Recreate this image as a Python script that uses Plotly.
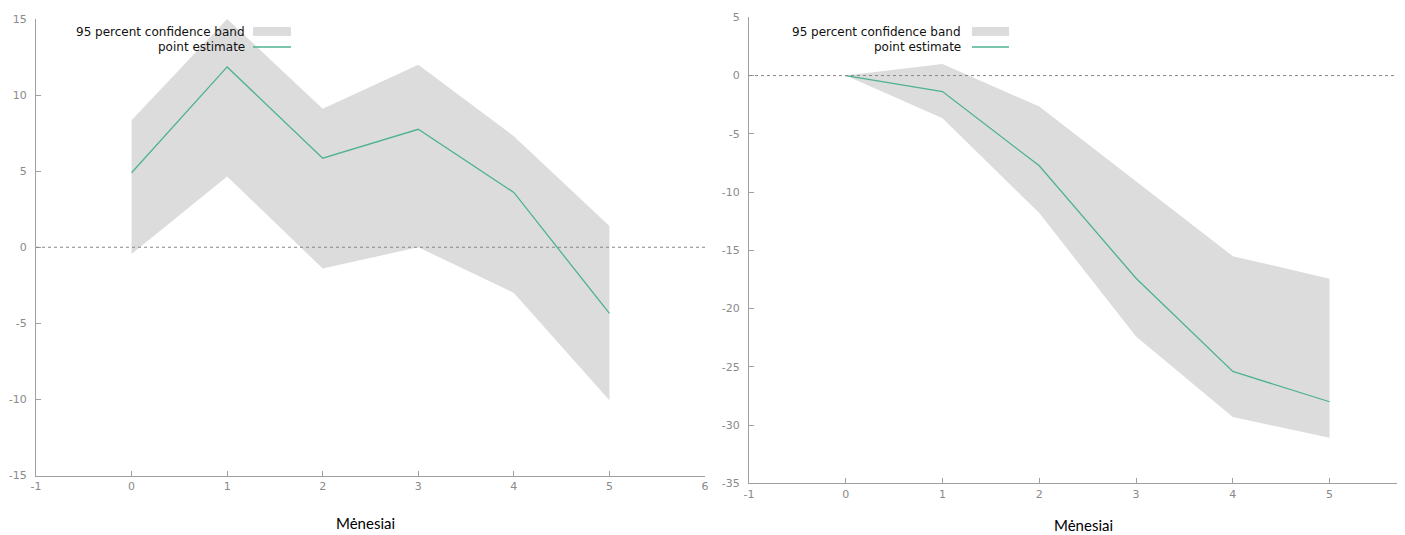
import plotly.graph_objects as go

# ---- data ----
months = [0, 1, 2, 3, 4, 5]

left_point = [4.9, 11.85, 5.85, 7.75, 3.6, -4.35]
left_upper = [8.35, 15.0, 9.1, 12.0, 7.3, 1.4]
left_lower = [-0.45, 4.65, -1.4, 0.0, -3.0, -10.05]

right_point = [0.0, -1.37, -7.75, -17.4, -25.4, -28.0]
right_upper = [0.0, 1.0, -2.66, -9.1, -15.5, -17.45]
right_lower = [0.0, -3.66, -11.8, -22.4, -29.3, -31.1]

x_ticks_left = [-1, 0, 1, 2, 3, 4, 5, 6]
x_ticks_right = [-1, 0, 1, 2, 3, 4, 5]
y_ticks_left = [-15, -10, -5, 0, 5, 10, 15]
y_ticks_right = [-35, -30, -25, -20, -15, -10, -5, 0, 5]

x_title = "Mėnesiai"
band_label = "95 percent confidence band"
point_label = "point estimate"

# ---- styles ----
BAND = "#dcdcdc"
LINE = "#4db38e"
AXIS = "#a0a0a0"
TICKC = "#8a8a8a"
OFF = 8                      # page body margin of the html page
W, H = 1405 - OFF, 535 - OFF  # figure size so it fills the window


def px(x):
    return (x - OFF) / W


def py(y):
    return (H - (y - OFF)) / H


fig = go.Figure()


def add_panel(xa, ya, upper, lower, point):
    fig.add_trace(go.Scatter(x=months + months[::-1], y=upper + lower[::-1],
                             fill="toself", fillcolor=BAND, line=dict(width=0),
                             mode="lines", xaxis=xa, yaxis=ya, showlegend=False,
                             hoverinfo="skip"))
    fig.add_trace(go.Scatter(x=months, y=point, mode="lines",
                             line=dict(color=LINE, width=1.3),
                             xaxis=xa, yaxis=ya, showlegend=False))


add_panel("x", "y", left_upper, left_lower, left_point)
add_panel("x2", "y2", right_upper, right_lower, right_point)


def lbl(vals):
    return [str(v) for v in vals]  # plain hyphen minus, like the reference


axis_common = dict(showgrid=False, zeroline=False, showline=True, linecolor=AXIS,
                   linewidth=1, ticks="inside", ticklen=5, tickcolor=AXIS,
                   tickfont=dict(family="DejaVu Sans", size=11, color=TICKC),
                   fixedrange=True, automargin=False, tickmode="array")

fig.update_layout(
    width=W, height=H, margin=dict(l=0, r=0, t=0, b=0, autoexpand=False),
    paper_bgcolor="white", plot_bgcolor="white", showlegend=False,
    xaxis=dict(domain=[px(36), px(705)], range=[-1, 6], anchor="y",
               tickvals=x_ticks_left, ticktext=lbl(x_ticks_left), **axis_common),
    yaxis=dict(domain=[py(475.5), py(19)], range=[-15, 15],
               tickvals=y_ticks_left, ticktext=lbl(y_ticks_left),
               anchor="x", ticklabelstandoff=6, **axis_common),
    xaxis2=dict(domain=[px(749), 1.0], range=[-1, 5.78], anchor="y2",
                tickvals=x_ticks_right, ticktext=lbl(x_ticks_right), **axis_common),
    yaxis2=dict(domain=[py(483.3), py(17.3)], range=[-35, 5],
                tickvals=y_ticks_right, ticktext=lbl(y_ticks_right),
                anchor="x2", ticklabelstandoff=6, **axis_common),
)

shapes = []
# dotted zero lines
for xr, yr in (("x domain", "y"), ("x2 domain", "y2")):
    shapes.append(dict(type="line", xref=xr, yref=yr, x0=0, x1=1, y0=0, y1=0,
                       line=dict(color="#888888", width=1, dash="dot"), layer="above"))

annotations = []
# manual legends (symbol on the right of text)
for text_right, sym_x0, sym_x1 in ((247, 253, 291), (963, 972, 1009)):
    annotations.append(dict(xref="paper", yref="paper", x=px(text_right), y=py(32),
                            text=band_label, showarrow=False, xanchor="right",
                            yanchor="middle",
                            font=dict(family="DejaVu Sans", size=12, color="#111111")))
    annotations.append(dict(xref="paper", yref="paper", x=px(text_right), y=py(47),
                            text=point_label, showarrow=False, xanchor="right",
                            yanchor="middle",
                            font=dict(family="DejaVu Sans", size=12, color="#111111")))
    shapes.append(dict(type="rect", xref="paper", yref="paper",
                       x0=px(sym_x0), x1=px(sym_x1), y0=py(36), y1=py(27),
                       fillcolor=BAND, line=dict(width=0)))
    shapes.append(dict(type="line", xref="paper", yref="paper",
                       x0=px(sym_x0), x1=px(sym_x1), y0=py(47), y1=py(47),
                       line=dict(color=LINE, width=1.3)))

# x-axis captions
for cx, cy in ((365, 523), (1083, 525)):
    annotations.append(dict(xref="paper", yref="paper", x=px(cx), y=py(cy),
                            text=x_title, showarrow=False, xanchor="center",
                            yanchor="middle",
                            font=dict(family="Lato", size=15, color="#000000")))

fig.update_layout(shapes=shapes, annotations=annotations)

fig.write_html("out.html")
